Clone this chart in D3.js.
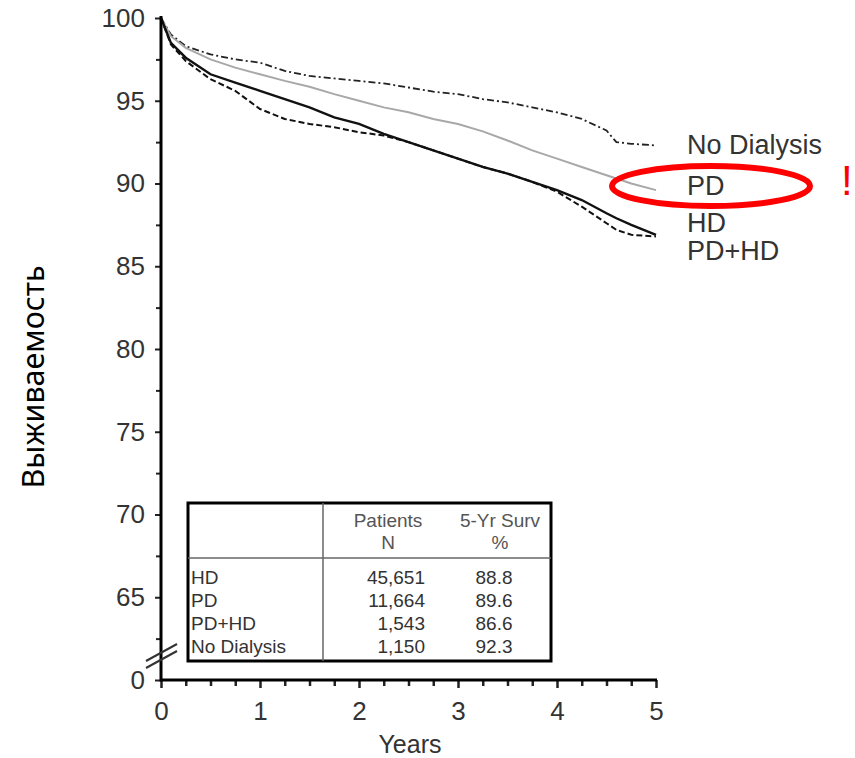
<!DOCTYPE html>
<html>
<head>
<meta charset="utf-8">
<script src="https://cdn.jsdelivr.net/npm/d3@7"></script>
<style>
  html, body { margin: 0; padding: 0; background: #fff; }
  svg { display: block; }
</style>
</head>
<body>
<svg id="chart" width="855" height="758"></svg>
<script>
// ---------- DATA ----------
const years = [0, 0.1, 0.25, 0.5, 0.75, 1, 1.25, 1.5, 1.75, 2, 2.25, 2.5, 2.75, 3, 3.25, 3.5, 3.75, 4, 4.25, 4.5, 4.6, 4.75, 5];
const noDialysis = [100, 99.0, 98.3, 97.8, 97.5, 97.3, 96.8, 96.5, 96.35, 96.2, 96.05, 95.8, 95.55, 95.4, 95.1, 94.9, 94.6, 94.3, 93.9, 93.2, 92.5, 92.4, 92.3];
const pd         = [100, 98.9, 98.2, 97.5, 97.0, 96.6, 96.2, 95.85, 95.4, 95.0, 94.6, 94.3, 93.9, 93.6, 93.15, 92.6, 92.0, 91.5, 91.0, 90.5, 90.3, 90.0, 89.6];
const hd         = [100, 98.5, 97.6, 96.6, 96.1, 95.6, 95.1, 94.6, 94.0, 93.6, 93.0, 92.5, 92.0, 91.5, 91.0, 90.6, 90.1, 89.6, 89.0, 88.2, 87.9, 87.5, 86.9];
const pdHd       = [100, 98.4, 97.4, 96.3, 95.6, 94.5, 93.9, 93.6, 93.4, 93.1, 92.9, 92.5, 92.0, 91.5, 91.0, 90.6, 90.1, 89.5, 88.6, 87.6, 87.2, 86.9, 86.8];

const seriesNames = ["No Dialysis", "PD", "HD", "PD+HD"];
const labelValues = [92.3, 89.85, 87.6, 85.9]; // vertical position of end labels (in survival units)

const yTickValues = [60, 65, 70, 75, 80, 85, 90, 95, 100];
const yTickLabels = ["0", "65", "70", "75", "80", "85", "90", "95", "100"];
const yMinorTicks = [62.5, 67.5, 72.5, 77.5, 82.5, 87.5, 92.5, 97.5];
const xTickValues = [0, 1, 2, 3, 4, 5];
const xTickLabels = ["0", "1", "2", "3", "4", "5"];
const xMinorTicks = [0.25, 0.5, 0.75, 1.25, 1.5, 1.75, 2.25, 2.5, 2.75, 3.25, 3.5, 3.75, 4.25, 4.5, 4.75];

const tableRows = ["HD", "PD", "PD+HD", "No Dialysis"];
const tablePatients = ["45,651", "11,664", "1,543", "1,150"];
const tableSurv = ["88.8", "89.6", "86.6", "92.3"];

// ---------- SETUP ----------
const svg = d3.select("#chart");
const x = d3.scaleLinear().domain([0, 5]).range([161, 656]);
const y = d3.scaleLinear().domain([60, 100]).range([680, 18]);
const textCol = "#333";
const font = "'Liberation Sans', Arial, sans-serif";

// ---------- CURVES ----------
const line = d3.line().x((d, i) => x(years[i])).y(d => y(d));
const styles = [
  { data: noDialysis, stroke: "#222", width: 1.8, dash: "7,3,2,3" },
  { data: pd,         stroke: "#a8a8a8", width: 2, dash: null },
  { data: pdHd,       stroke: "#111", width: 2, dash: "6,3" },
  { data: hd,         stroke: "#111", width: 2.4, dash: null }
];
styles.forEach(s => {
  svg.append("path")
    .attr("d", line(s.data))
    .attr("fill", "none")
    .attr("stroke", s.stroke)
    .attr("stroke-width", s.width)
    .attr("stroke-dasharray", s.dash);
});

// ---------- AXES ----------
// Y axis
const yAxis = d3.axisLeft(y).tickValues(yTickValues)
  .tickFormat((d, i) => yTickLabels[i]).tickSize(6).tickPadding(10);
const gy = svg.append("g").attr("transform", "translate(161,0)").call(yAxis);
gy.select(".domain").remove();
gy.selectAll(".tick line").attr("stroke", "#222").attr("stroke-width", 2);
gy.selectAll(".tick text").attr("font-family", font).attr("font-size", 26).attr("fill", textCol);
const gyMinor = svg.append("g").attr("transform", "translate(161,0)")
  .call(d3.axisLeft(y).tickValues(yMinorTicks).tickFormat("").tickSize(5));
gyMinor.select(".domain").remove();
gyMinor.selectAll(".tick line").attr("stroke", "#222").attr("stroke-width", 2);
svg.append("line").attr("x1", 161).attr("x2", 161).attr("y1", y(100) - 2).attr("y2", y(60) + 1.5)
  .attr("stroke", "#000").attr("stroke-width", 3);

// X axis
const xAxis = d3.axisBottom(x).tickValues(xTickValues)
  .tickFormat((d, i) => xTickLabels[i]).tickSize(8).tickPadding(14);
const gx = svg.append("g").attr("transform", "translate(0,680)").call(xAxis);
gx.select(".domain").remove();
gx.selectAll(".tick line").attr("stroke", "#222").attr("stroke-width", 2.5);
gx.selectAll(".tick text").attr("font-family", font).attr("font-size", 26).attr("fill", textCol);
const gxMinor = svg.append("g").attr("transform", "translate(0,680)")
  .call(d3.axisBottom(x).tickValues(xMinorTicks).tickFormat("").tickSize(6));
gxMinor.select(".domain").remove();
gxMinor.selectAll(".tick line").attr("stroke", "#222").attr("stroke-width", 2.5);
svg.append("line").attr("x1", 160).attr("x2", 657).attr("y1", 680).attr("y2", 680)
  .attr("stroke", "#000").attr("stroke-width", 3);

// Axis break marks
[0, 7].forEach(off => {
  svg.append("line")
    .attr("x1", 146).attr("y1", 661 + off).attr("x2", 177).attr("y2", 644 + off)
    .attr("stroke", "#333").attr("stroke-width", 2);
});

// Axis titles
svg.append("text").attr("x", 410).attr("y", 753).attr("text-anchor", "middle")
  .attr("font-family", font).attr("font-size", 25).attr("fill", textCol).text("Years");
svg.append("text")
  .attr("transform", "translate(32,377) rotate(-90)")
  .attr("text-anchor", "middle").attr("dominant-baseline", "central")
  .attr("font-family", "'Noto Sans', sans-serif").attr("font-size", 30)
  .attr("textLength", 223).attr("lengthAdjust", "spacingAndGlyphs")
  .attr("fill", "#000").text("Выживаемость");

// ---------- SERIES END LABELS ----------
seriesNames.forEach((n, i) => {
  svg.append("text").attr("x", 687).attr("y", y(labelValues[i]))
    .attr("dominant-baseline", "central")
    .attr("font-family", font).attr("font-size", 27).attr("fill", textCol).text(n);
});

// ---------- TABLE ----------
const tb = { x0: 188, x1: 551, y0: 503, y1: 661, xDiv: 323, yDiv: 558 };
svg.append("rect").attr("x", tb.x0).attr("y", tb.y0)
  .attr("width", tb.x1 - tb.x0).attr("height", tb.y1 - tb.y0)
  .attr("fill", "#fff").attr("stroke", "#000").attr("stroke-width", 3);
svg.append("line").attr("x1", tb.xDiv).attr("x2", tb.xDiv).attr("y1", tb.y0).attr("y2", tb.y1)
  .attr("stroke", "#666").attr("stroke-width", 1.5);
svg.append("line").attr("x1", tb.x0).attr("x2", tb.x1).attr("y1", tb.yDiv).attr("y2", tb.yDiv)
  .attr("stroke", "#666").attr("stroke-width", 1.5);
const tFont = 19;
const headers = [["Patients", 388, 520], ["N", 388, 542], ["5-Yr Surv", 500, 520], ["%", 500, 542]];
headers.forEach(h => {
  svg.append("text").attr("x", h[1]).attr("y", h[2]).attr("text-anchor", "middle")
    .attr("dominant-baseline", "central")
    .attr("font-family", font).attr("font-size", tFont).attr("fill", "#555").text(h[0]);
});
const rowY = d3.scalePoint().domain(tableRows).range([577, 646]);
tableRows.forEach((r, i) => {
  const yy = rowY(r);
  svg.append("text").attr("x", 191).attr("y", yy).attr("dominant-baseline", "central")
    .attr("font-family", font).attr("font-size", tFont).attr("fill", textCol).text(r);
  svg.append("text").attr("x", 425).attr("y", yy).attr("text-anchor", "end").attr("dominant-baseline", "central")
    .attr("font-family", font).attr("font-size", tFont).attr("fill", textCol).text(tablePatients[i]);
  svg.append("text").attr("x", 494).attr("y", yy).attr("text-anchor", "middle").attr("dominant-baseline", "central")
    .attr("font-family", font).attr("font-size", tFont).attr("fill", textCol).text(tableSurv[i]);
});

// ---------- ANNOTATION ----------
svg.append("ellipse").attr("cx", 711).attr("cy", 186).attr("rx", 99).attr("ry", 20)
  .attr("fill", "none").attr("stroke", "#f00").attr("stroke-width", 6);
svg.append("text").attr("x", 841).attr("y", 195)
  .attr("font-family", font).attr("font-size", 42).attr("fill", "#f00").text("!");
</script>
</body>
</html>
